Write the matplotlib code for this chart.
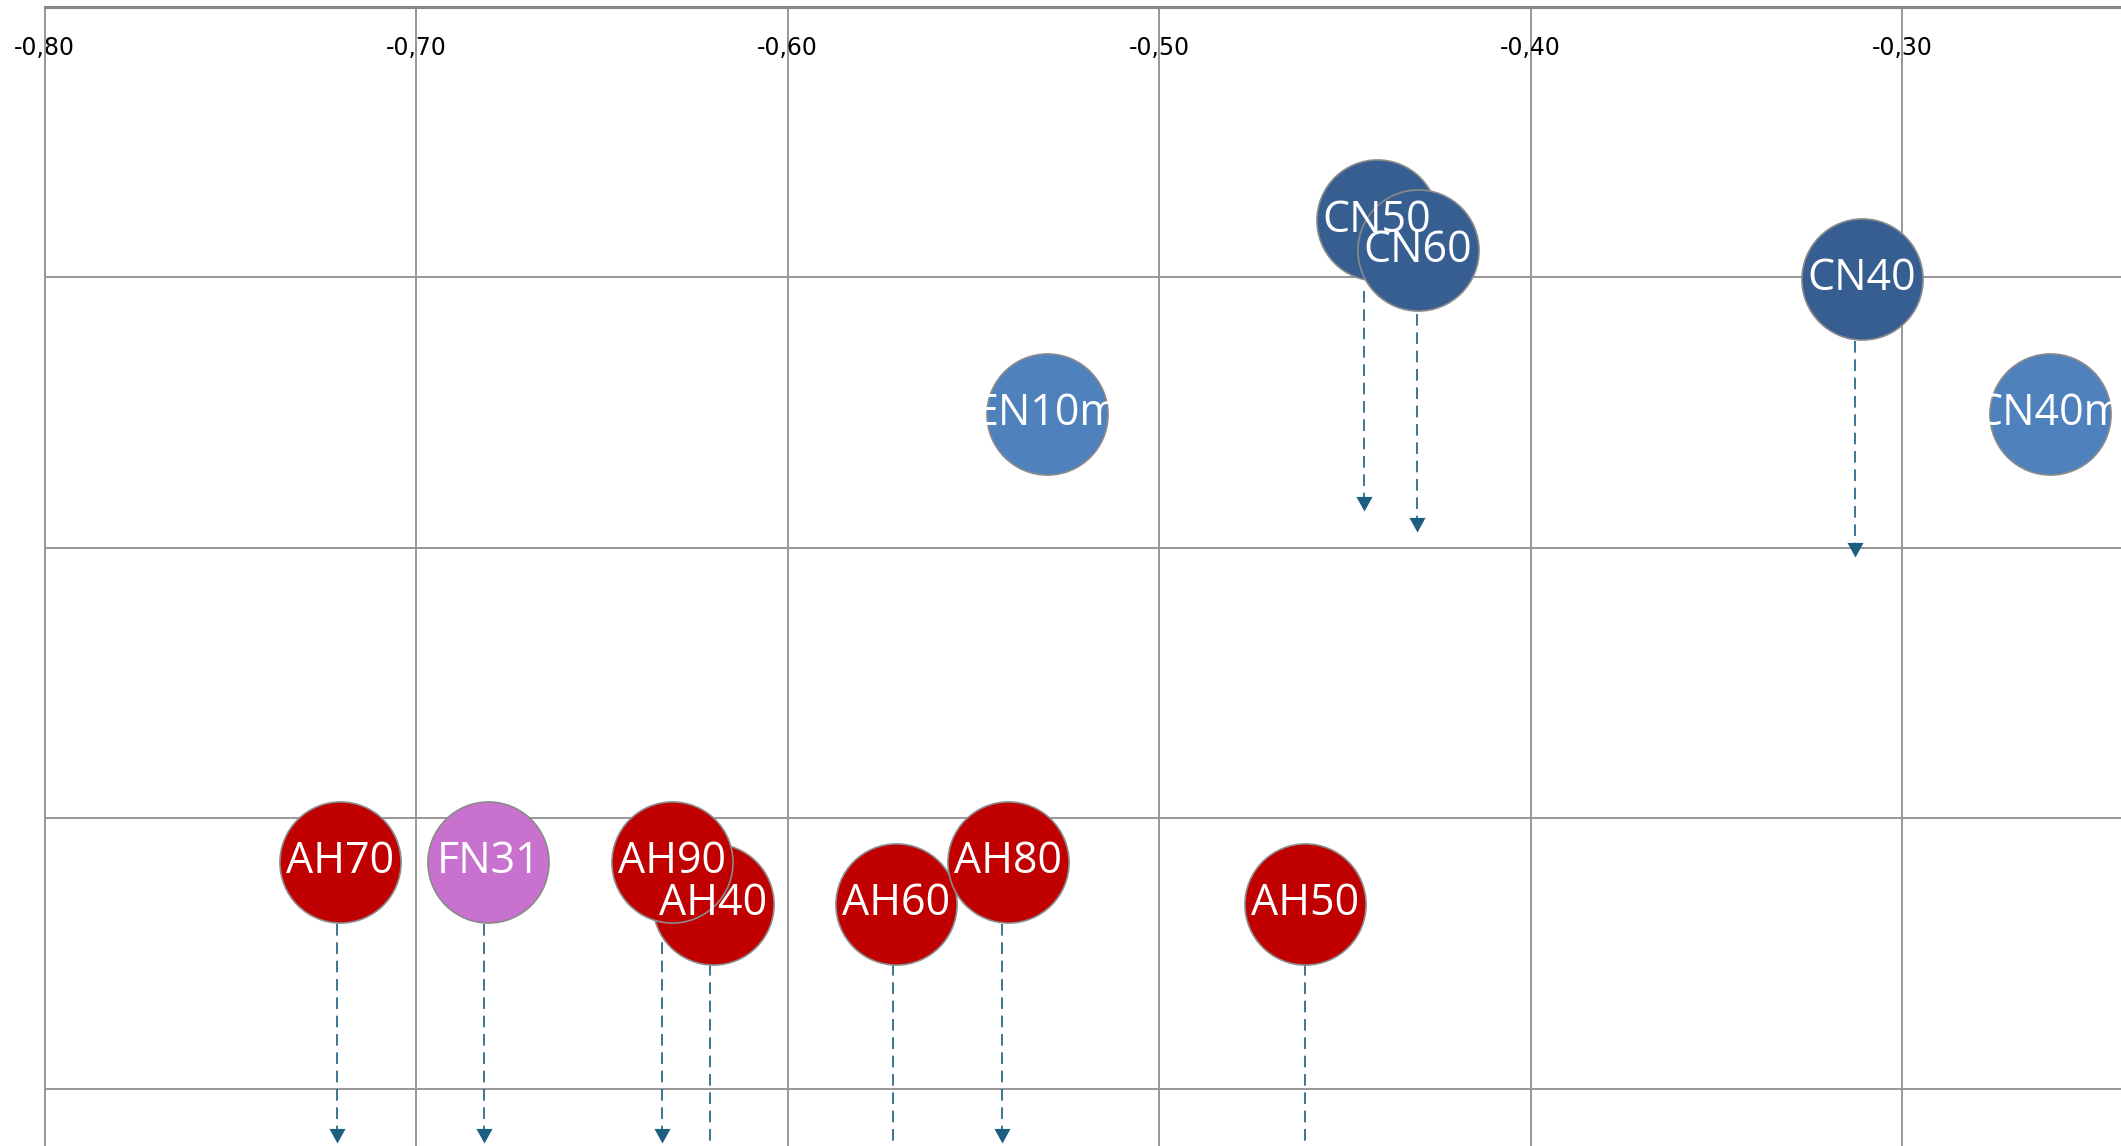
import matplotlib
matplotlib.use("Agg")
import matplotlib.pyplot as plt
from matplotlib.path import Path
from matplotlib.ticker import FixedLocator

# bubbles
labels = ["AH40", "AH90", "AH70", "FN31", "AH60", "AH80", "AH50",
          "EN10m", "CN40m", "CN50", "CN60", "CN40"]
xs = [-0.620, -0.631, -0.7206, -0.6806, -0.5709, -0.5407, -0.4606,
      -0.5302, -0.2603, -0.4413, -0.4304, -0.3109]
ys = [-0.3315, -0.316, -0.316, -0.316, -0.3315, -0.316, -0.3315,
      -0.1505, -0.1505, -0.079, -0.090, -0.1005]
groups = ["AH", "AH", "AH", "FN", "AH", "AH", "AH",
          "EN", "EN", "CN", "CN", "CN"]
colors = {"AH": "#C00000", "FN": "#C871CF", "EN": "#4F81BD", "CN": "#375E91"}

# dashed arrows (x, start y, end y)
arrow_x = [-0.4449, -0.4307, -0.3128, -0.7213, -0.6816, -0.6339,
           -0.6208, -0.5717, -0.5422, -0.4606]
arrow_y0 = [-0.105, -0.1135, -0.1235, -0.339, -0.339, -0.339,
            -0.354, -0.354, -0.339, -0.354]
arrow_y1 = [-0.1865, -0.194, -0.2035, -0.420, -0.420, -0.420,
            -0.470, -0.470, -0.420, -0.470]

xticks = [-0.80, -0.70, -0.60, -0.50, -0.40, -0.30]
xtick_labels = ["-0,80", "-0,70", "-0,60", "-0,50", "-0,40", "-0,30"]
yticks = [0.0, -0.1, -0.2, -0.3, -0.4]

W, H = 2121, 1146
fig = plt.figure(figsize=(W / 100, H / 100), dpi=100)
left = 44.6 / W
top = 6.8 / H
ax = fig.add_axes([left, 0, 1 - left, 1 - top])
ax.set_xlim(-0.80, -0.80 + (W - 44.6) / 3715)
ax.set_ylim(-(H - 6.8) / 2705, 0)

grid_c = "#979797"
ax.xaxis.set_major_locator(FixedLocator(xticks))
ax.yaxis.set_major_locator(FixedLocator(yticks))
ax.grid(True, color=grid_c, linewidth=1.4, zorder=0)
ax.set_axisbelow(True)
for s in ["right", "bottom"]:
    ax.spines[s].set_visible(False)
ax.spines["top"].set_color("#888888")
ax.spines["top"].set_linewidth(2.2)
ax.spines["left"].set_color(grid_c)
ax.spines["left"].set_linewidth(1.4)

ax.xaxis.tick_top()
ax.set_xticklabels(xtick_labels, fontsize=17, family="DejaVu Sans")
ax.tick_params(axis="x", length=0, pad=-38)
ax.tick_params(axis="y", length=0, labelleft=False)

# arrows
arrow_c = "#1B5E80"
tip = Path([(-0.55, 1.0), (0.55, 1.0), (0.0, 0.0), (-0.55, 1.0)])
for x, y0, y1 in zip(arrow_x, arrow_y0, arrow_y1):
    ax.plot([x, x], [y0, y1 + 0.004], color=arrow_c, linewidth=1.2,
            dashes=(7, 4), zorder=1)
    ax.plot([x], [y1], marker=tip, markersize=21, color=arrow_c,
            markeredgewidth=0, zorder=1)

# bubbles then labels
for i in range(len(labels)):
    ax.scatter(xs[i], ys[i], s=7600, color=colors[groups[i]],
               edgecolors="#8a8a8a", linewidths=1.2, zorder=3 + i * 0.01)
for i in range(len(labels)):
    ax.text(xs[i], ys[i], labels[i], color="white", fontsize=31,
            family="Open Sans", ha="center", va="center", zorder=5)

fig.savefig("out.png", dpi=100)
